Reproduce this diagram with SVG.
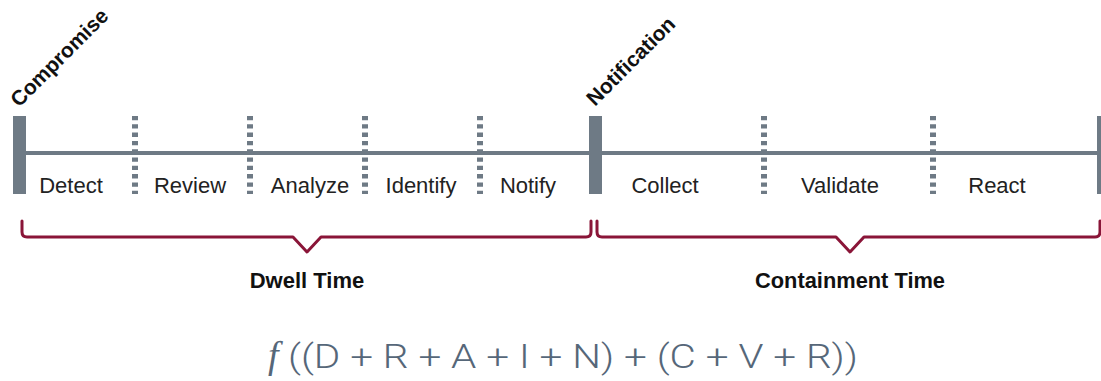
<svg xmlns="http://www.w3.org/2000/svg" width="1101" height="381" viewBox="0 0 1101 381">
<style>
.bar{fill:#6e7a85}
.axis{stroke:#6e7a85;stroke-width:4;fill:none}
.tick{stroke:#6e7a85;stroke-width:6;stroke-dasharray:4.3 4;fill:none}
.lbl{font-family:"Liberation Sans",Arial,sans-serif;font-size:22px;fill:#222;text-anchor:middle}
.head{font-family:"Liberation Sans",Arial,sans-serif;font-size:21px;font-weight:bold;fill:#111}
.brace{stroke:#8a1538;stroke-width:3;fill:none;stroke-linejoin:round;stroke-linecap:round}
.sum{font-family:"Liberation Sans",Arial,sans-serif;font-size:22px;font-weight:bold;fill:#111;text-anchor:middle}
</style>
<rect width="1101" height="381" fill="#fff"/>
<g id="connectors">
<line class="axis" x1="20" y1="153" x2="1100" y2="153"/>
<path class="brace" d="M22 221 V232 Q22 237 27 237 H293 L307 252 L321 237 H586 Q591 237 591 232 V221"/>
<path class="brace" d="M597 221 V232 Q597 237 602 237 H836 L850 252 L864 237 H1095 Q1100 237 1100 232 V221"/>
</g>
<g id="compromise">
<rect class="bar" x="13" y="116" width="13" height="78"/>
<text class="head" transform="translate(19,108) rotate(-45)">Compromise</text>
</g>
<g id="notification">
<rect class="bar" x="589" y="116" width="13" height="78"/>
<text class="head" transform="translate(595,107) rotate(-45)">Notification</text>
</g>
<g id="end"><rect class="bar" x="1097" y="116" width="13" height="78"/></g>
<g id="ticks">
<line class="tick" x1="135" y1="116" x2="135" y2="194"/>
<line class="tick" x1="250" y1="116" x2="250" y2="194"/>
<line class="tick" x1="365" y1="116" x2="365" y2="194"/>
<line class="tick" x1="480" y1="116" x2="480" y2="194"/>
<line class="tick" x1="764" y1="116" x2="764" y2="194"/>
<line class="tick" x1="933" y1="116" x2="933" y2="194"/>
</g>
<g id="detect"><text class="lbl" x="71" y="193">Detect</text></g>
<g id="review"><text class="lbl" x="190" y="193">Review</text></g>
<g id="analyze"><text class="lbl" x="310" y="193">Analyze</text></g>
<g id="identify"><text class="lbl" x="421" y="193">Identify</text></g>
<g id="notify"><text class="lbl" x="528" y="193">Notify</text></g>
<g id="collect"><text class="lbl" x="665" y="193">Collect</text></g>
<g id="validate"><text class="lbl" x="840" y="193">Validate</text></g>
<g id="react"><text class="lbl" x="997" y="193">React</text></g>
<g id="dwell"><text class="sum" x="307" y="288">Dwell Time</text></g>
<g id="containment"><text class="sum" x="850" y="288" textLength="190" lengthAdjust="spacingAndGlyphs">Containment Time</text></g>
<g id="formula">
<text x="268" y="368" font-family="'Liberation Serif',serif" font-style="italic" font-size="38" fill="#566779">f</text>
<text x="288" y="368" font-family="Roboto,'Liberation Sans',sans-serif" font-weight="300" font-size="34" fill="#566779" textLength="570" lengthAdjust="spacingAndGlyphs">((D + R + A + I + N) + (C + V + R))</text>
</g>
</svg>
